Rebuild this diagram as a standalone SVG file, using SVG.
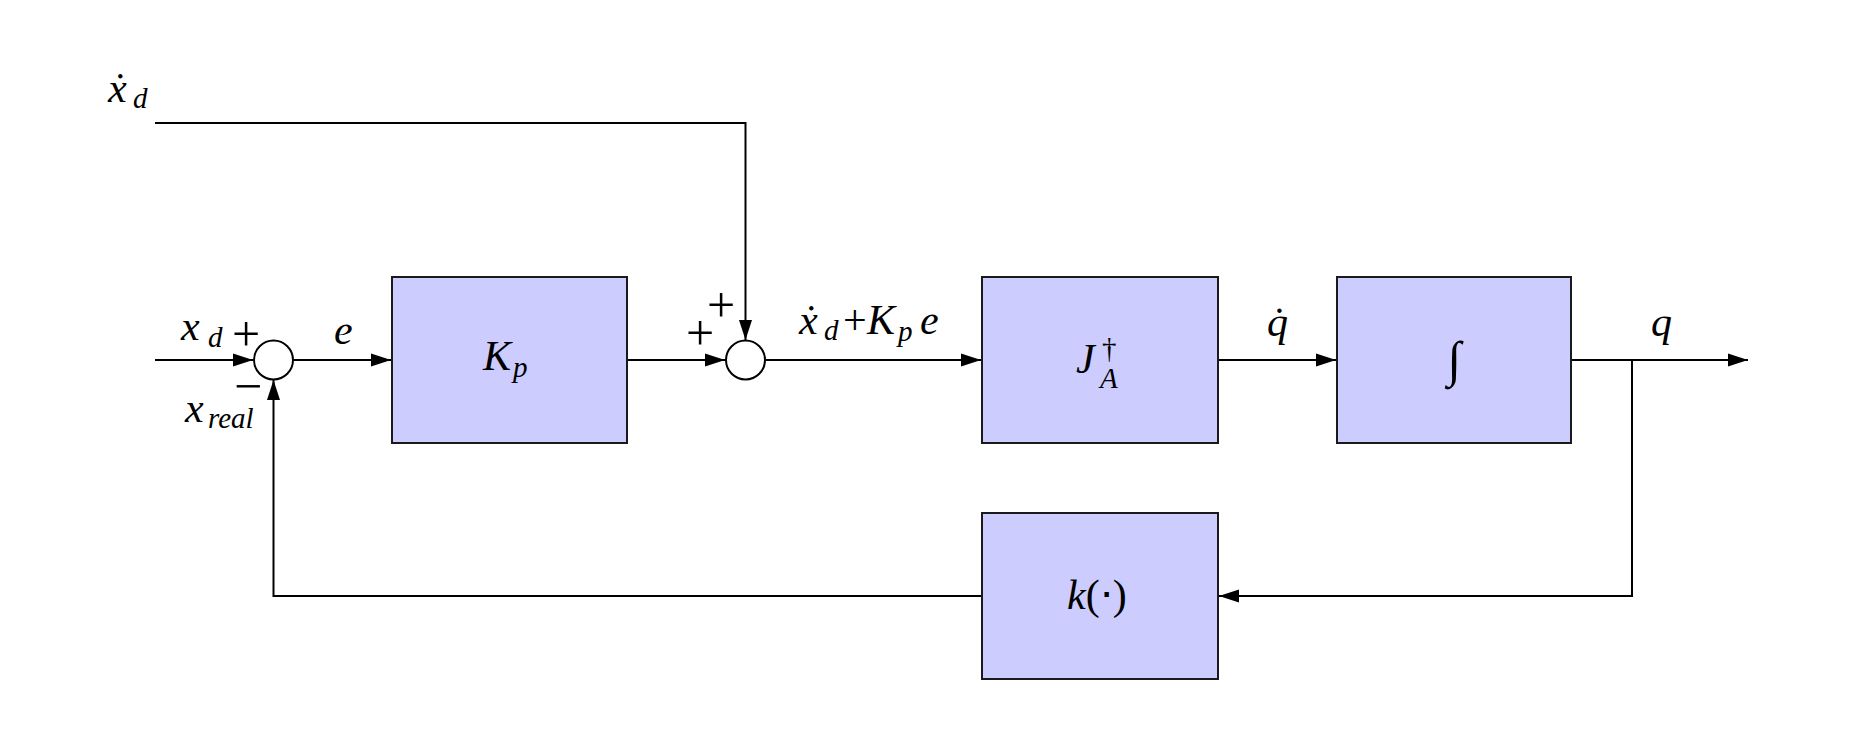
<svg xmlns="http://www.w3.org/2000/svg" width="1875" height="750" viewBox="0 0 1875 750">
<style>
.box{fill:#ccccff;stroke:#1a1a1a;stroke-width:2}
.sum{fill:#ffffff;stroke:#000;stroke-width:2}
.arr{fill:none;stroke:#000;stroke-width:2;marker-end:url(#ah)}
.m{font-family:'Liberation Serif',serif;font-style:italic;font-size:42px}
.s{font-family:'Liberation Serif',serif;font-style:italic;font-size:29px}
.u{font-family:'Liberation Serif',serif;font-style:normal;font-size:42px}
.op{font-family:'Liberation Serif',serif;font-style:normal;font-size:50px}
</style>
<defs>
<marker id="ah" markerUnits="userSpaceOnUse" markerWidth="20" markerHeight="14" refX="20" refY="7" orient="auto">
<path d="M0,0.5 L20,7 L0,13.5 z" fill="#000"/>
</marker>
</defs>
<rect width="1875" height="750" fill="#ffffff"/>
<g id="connectors">
<path class="arr" d="M155,123 H745.5 V340"/>
<path class="arr" d="M155,360 H253"/>
<path class="arr" d="M294,360 H391"/>
<path class="arr" d="M627,360 H725"/>
<path class="arr" d="M766,360 H981"/>
<path class="arr" d="M1218,360 H1336"/>
<path class="arr" d="M1571,360 H1748"/>
<path class="arr" d="M1632,360 V596 H1219"/>
<path class="arr" d="M982,596 H273.5 V380"/>
</g>
<g id="sum1">
<circle class="sum" cx="273.5" cy="360" r="19.5"/>
<text class="op" x="246" y="351" text-anchor="middle">+</text>
<text class="op" x="248" y="403" text-anchor="middle">−</text>
</g>
<g id="sum2">
<circle class="sum" cx="745.5" cy="360" r="19.5"/>
<text class="op" x="700" y="350" text-anchor="middle">+</text>
<text class="op" x="721" y="322" text-anchor="middle">+</text>
</g>
<g id="Kp">
<rect class="box" x="392" y="277" width="235" height="166"/>
<text><tspan class="m" x="483" y="370">K</tspan><tspan class="s" x="513" y="377">p</tspan></text>
</g>
<g id="J">
<rect class="box" x="982" y="277" width="236" height="166"/>
<text><tspan class="m" x="1076" y="373">J</tspan><tspan class="u" style="font-size:29px" x="1102" y="358">†</tspan><tspan class="s" x="1100" y="388">A</tspan></text>
</g>
<g id="integral">
<rect class="box" x="1337" y="277" width="234" height="166"/>
<text class="u" style="font-size:50px" x="1454" y="376" text-anchor="middle">∫</text>
</g>
<g id="k">
<rect class="box" x="982" y="513" width="236" height="166"/>
<text><tspan class="m" x="1067" y="609">k</tspan><tspan class="u">(⋅)</tspan></text>
</g>
<g id="labels">
<text><tspan class="m" x="108" y="102">ẋ</tspan><tspan class="s" x="133" y="108">d</tspan></text>
<text><tspan class="m" x="181" y="340">x</tspan><tspan class="s" x="208" y="347">d</tspan></text>
<text><tspan class="m" x="185" y="422">x</tspan><tspan class="s" x="208" y="428">real</tspan></text>
<text class="m" x="334" y="344">e</text>
<text><tspan class="m" x="799" y="334">ẋ</tspan><tspan class="s" x="824" y="340">d</tspan><tspan class="u" x="843" y="334">+</tspan><tspan class="m" x="867" y="334">K</tspan><tspan class="s" x="898" y="341">p</tspan><tspan class="m" x="920" y="334">e</tspan></text>
<text class="m" x="1267" y="336">q̇</text>
<text class="m" x="1651" y="336">q</text>
</g>
</svg>
